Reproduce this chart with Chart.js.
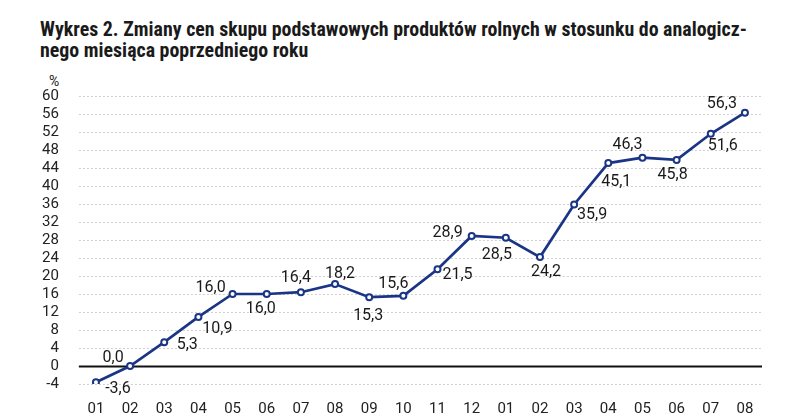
<!DOCTYPE html>
<html lang="pl">
<head>
  <meta charset="UTF-8" />
  <title>Wykres 2</title>
  <style>
    body { margin: 0; background: #fff; width: 786px; height: 414px; overflow: hidden; position: relative; }
    .tytul {
      position: absolute; left: 40px; top: 19px; width: 740px; white-space: nowrap;
      font-family: "Liberation Sans Narrow", "Roboto", sans-serif; font-stretch: condensed;
      font-weight: bold; font-size: 19.9px; line-height: 21px; color: #1a1a1a;
    }
    .jednostka { position: absolute; left: 49px; top: 73px; font-family: "Roboto", sans-serif; font-size: 14px; color: #222; }
    .wrap { position: absolute; left: 0; top: 0; width: 786px; height: 426px; }
  </style>
</head>
<body>
  <div class="tytul">Wykres 2. Zmiany cen skupu podstawowych produktów rolnych w stosunku do analogicz-<br>nego miesiąca poprzedniego roku</div>
  <div class="jednostka">%</div>
  <div class="wrap"><canvas id="wykres" width="786" height="426"></canvas></div>

  <script src="https://cdn.jsdelivr.net/npm/chart.js"></script>
  <script>
    const miesiace = ["01","02","03","04","05","06","07","08","09","10","11","12","01","02","03","04","05","06","07","08"];
    const zmiany = [-3.6, 0.0, 5.3, 10.9, 16.0, 16.0, 16.4, 18.2, 15.3, 15.6, 21.5, 28.9, 28.5, 24.2, 35.9, 45.1, 46.3, 45.8, 51.6, 56.3];

    const granat = "#1b3586";
    const czcionka = "'Roboto', sans-serif";

    // przesuniecie srodka etykiety wzgledem punktu [dx, dy]
    const przesuniecia = [
      [22, 6], [-17, -9], [23, 2], [19, 11], [-22, -7], [-6, 14], [-5, -15], [5, -11], [-1, 18], [-10, -13],
      [20, 5], [-24, -4], [-9, 16], [6, 14], [18, 10], [8, 18], [-15, -14], [-4, 14], [12, 11], [-23, -10]
    ];

    const etykiety = {
      id: "etykiety",
      afterDatasetsDraw(chart) {
        const ctx = chart.ctx;
        const meta = chart.getDatasetMeta(0);
        ctx.save();
        ctx.font = "16px " + czcionka;
        ctx.fillStyle = "#1a1a1a";
        ctx.textAlign = "center";
        ctx.textBaseline = "middle";
        meta.data.forEach((p, i) => {
          const txt = zmiany[i].toFixed(1).replace(".", ",");
          const [dx, dy] = przesuniecia[i];
          ctx.fillText(txt, p.x + dx, p.y + dy + 1);
        });
        ctx.restore();
      }
    };

    // siatka kropkowana i linia zera
    const siatka = {
      id: "siatka",
      beforeDatasetsDraw(chart) {
        const ctx = chart.ctx;
        const sy = chart.scales.y;
        const { left, right } = chart.chartArea;
        ctx.save();
        sy.ticks.forEach(t => {
          const y = Math.round(sy.getPixelForValue(t.value)) + 0.5;
          ctx.beginPath();
          if (t.value === 0) {
            ctx.setLineDash([]);
            ctx.strokeStyle = "#111";
            ctx.lineWidth = 2;
          } else {
            ctx.setLineDash([2, 2]);
            ctx.strokeStyle = "#cfcfcf";
            ctx.lineWidth = 1;
          }
          ctx.moveTo(left, y);
          ctx.lineTo(right, y);
          ctx.stroke();
        });
        ctx.restore();
      }
    };

    new Chart(document.getElementById("wykres"), {
      type: "line",
      data: {
        labels: miesiace,
        datasets: [{
          data: zmiany,
          borderColor: granat,
          borderWidth: 2.7,
          pointRadius: 3,
          pointBorderWidth: 2,
          pointBackgroundColor: "#fff",
          pointBorderColor: granat,
          tension: 0
        }]
      },
      options: {
        responsive: false,
        animation: false,
        layout: { padding: { top: 96, right: 24, left: 30, bottom: 0 } },
        plugins: { legend: { display: false }, tooltip: { enabled: false } },
        scales: {
          x: {
            offset: true,
            grid: { display: false },
            border: { display: false },
            ticks: { color: "#222", font: { family: czcionka, size: 15 }, maxRotation: 0, autoSkip: false, padding: 8 }
          },
          y: {
            min: -4, max: 60,
            grid: { display: false },
            border: { display: false },
            ticks: { stepSize: 4, autoSkip: false, color: "#222", font: { family: czcionka, size: 15 }, padding: 12 }
          }
        }
      },
      plugins: [siatka, etykiety]
    });
  </script>
</body>
</html>
